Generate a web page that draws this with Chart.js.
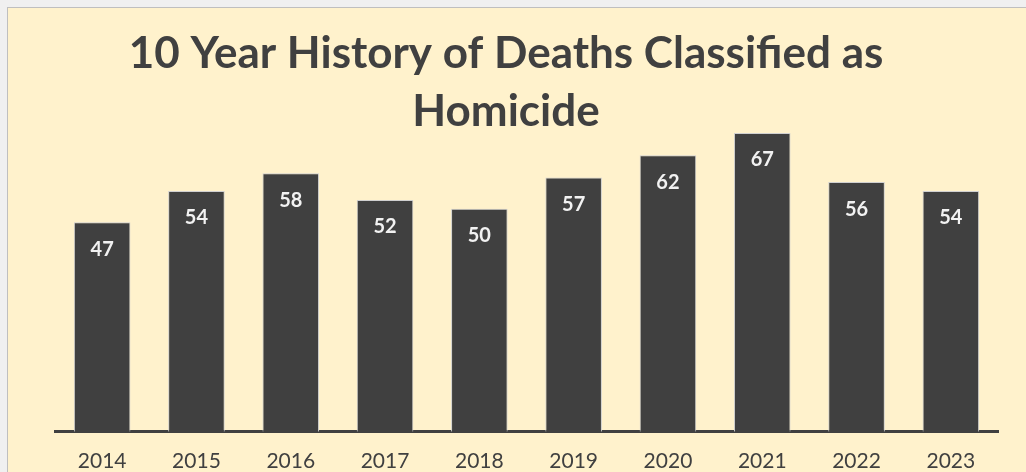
<!DOCTYPE html>
<html>
<head>
<meta charset="utf-8">
<script src="https://cdn.jsdelivr.net/npm/chart.js@4"></script>
<style>
  html, body { margin: 0; padding: 0; background: #f0f0f0; overflow: hidden; }
  .panel {
    position: absolute; left: 7px; top: 7px;
    width: 1040px; height: 500px;
    background: #fff2cc; border: 1px solid #bfbfbf;
  }
  .panel canvas { display: block; }
</style>
</head>
<body>
<div class="panel">
  <canvas id="homicide-chart" width="1018" height="483"></canvas>
</div>
<script>
// data
const years = ["2014", "2015", "2016", "2017", "2018", "2019", "2020", "2021", "2022", "2023"];
const homicides = [47, 54, 58, 52, 50, 57, 62, 67, 56, 54];
const titleLines = ["10 Year History of Deaths Classified as", "Homicide"];

const darkGrey = "#404040";

// white value labels just inside the top of each bar
const barValueLabels = {
    id: "barValueLabels",
    afterDatasetsDraw(chart) {
        const ctx = chart.ctx;
        const meta = chart.getDatasetMeta(0);
        ctx.save();
        ctx.fillStyle = "#f2f2f2";
        ctx.font = "bold 20px Lato";
        ctx.textAlign = "center";
        ctx.textBaseline = "middle";
        meta.data.forEach((bar, i) => {
            ctx.fillText(chart.data.datasets[0].data[i], bar.x, bar.y + 27);
        });
        ctx.restore();
    }
};

const ctx = document.getElementById("homicide-chart").getContext("2d");
new Chart(ctx, {
    type: "bar",
    data: {
        labels: years,
        datasets: [{
            data: homicides,
            backgroundColor: darkGrey,
            borderColor: "#d0d0d0",
            borderWidth: 1,
            borderSkipped: "bottom",
            barPercentage: 0.6,
            categoryPercentage: 1
        }]
    },
    options: {
        responsive: false,
        animation: false,
        layout: { padding: { left: 6, right: 28, top: 0, bottom: 0 } },
        plugins: {
            legend: { display: false },
            tooltip: { enabled: false },
            title: {
                display: true,
                text: titleLines,
                color: darkGrey,
                font: { family: "Lato", size: 44, weight: "bold", lineHeight: "58px" },
                padding: { top: 17, bottom: -8 }
            }
        },
        scales: {
            x: {
                grid: { display: false, drawTicks: false },
                border: { display: true, color: darkGrey, width: 3 },
                ticks: { color: darkGrey, font: { family: "Lato", size: 21 }, padding: 17 }
            },
            y: {
                min: 0,
                max: 67,
                grid: { display: false, drawTicks: false },
                border: { display: false },
                ticks: { display: false },
                afterFit: (scale) => { scale.width = 41; }
            }
        }
    },
    plugins: [barValueLabels]
});
</script>
</body>
</html>
